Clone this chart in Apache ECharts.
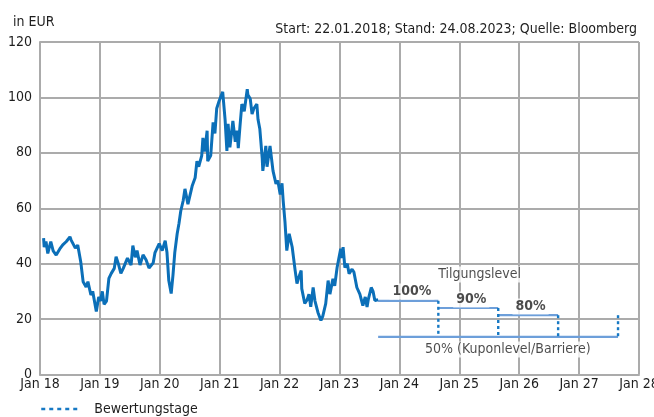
<!DOCTYPE html>
<html>
<head>
<meta charset="utf-8">
<script src="https://cdn.jsdelivr.net/npm/echarts@6/dist/echarts.min.js"></script>
<style>
  html, body { margin: 0; padding: 0; background: #fff; }
  #chart { width: 654px; height: 417px; }
</style>
</head>
<body>
<div id="chart"></div>
<script>
// ---- data (decimal years, EUR) ----
const years = [
  2018.06, 2018.07, 2018.10, 2018.13, 2018.18, 2018.22, 2018.27, 2018.33, 2018.38, 2018.44,
  2018.50, 2018.52, 2018.55, 2018.59, 2018.63, 2018.68, 2018.72, 2018.77, 2018.80, 2018.85,
  2018.88, 2018.94, 2018.98, 2019.01, 2019.04, 2019.07, 2019.11, 2019.15, 2019.19, 2019.24,
  2019.27, 2019.31, 2019.35, 2019.39, 2019.46,
  2019.49, 2019.52, 2019.55,
  2019.59, 2019.62, 2019.67, 2019.72, 2019.77, 2019.82, 2019.89, 2019.92, 2019.99, 2020.04,
  2020.09, 2020.12, 2020.15, 2020.19, 2020.22, 2020.25, 2020.29, 2020.32, 2020.35, 2020.39,
  2020.42, 2020.47, 2020.50, 2020.54, 2020.59, 2020.62, 2020.65, 2020.70, 2020.72, 2020.75,
  2020.79, 2020.80, 2020.85, 2020.89, 2020.92, 2020.95, 2020.99, 2021.05, 2021.09, 2021.12,
  2021.14, 2021.17, 2021.22, 2021.26, 2021.29, 2021.31, 2021.34, 2021.37, 2021.41, 2021.46,
  2021.47, 2021.51, 2021.54, 2021.57, 2021.62, 2021.64, 2021.67, 2021.71, 2021.72, 2021.77,
  2021.79, 2021.84, 2021.89, 2021.94, 2021.97, 2022.01, 2022.04, 2022.06, 2022.09, 2022.12,
  2022.16, 2022.21, 2022.26, 2022.29, 2022.32, 2022.36, 2022.37, 2022.42, 2022.46, 2022.49,
  2022.52, 2022.56, 2022.59, 2022.64, 2022.69, 2022.72, 2022.77, 2022.81, 2022.84, 2022.89,
  2022.92, 2022.96, 2022.99, 2023.02, 2023.04, 2023.06, 2023.09, 2023.13, 2023.16, 2023.21,
  2023.24, 2023.29, 2023.34, 2023.39, 2023.43, 2023.46, 2023.48, 2023.53, 2023.56, 2023.59,
  2023.645
];
const prices = [
  49.2, 46.0, 48.0, 43.7, 48.0, 44.6, 43.1, 45.3, 46.8, 48.0,
  49.7, 48.5, 49.0, 45.6, 46.7, 40.7, 33.5, 31.6, 33.5, 28.7,
  30.0, 22.7, 28.0, 26.5, 30.0, 25.3, 26.5, 34.7, 36.5, 38.3,
  42.5, 39.8, 36.5, 38.3, 42.0,
  41.7, 39.5, 46.5,
  42.3, 44.7, 39.5, 43.2, 41.4, 38.4, 40.3, 44.0, 47.2, 44.7,
  48.3, 44.0, 33.9, 29.2, 35.9, 44.0, 50.8, 54.5, 59.0, 62.7,
  67.0, 61.5, 61.6, 68.0, 71.0, 77.0, 75.0, 79.0, 85.4, 80.5,
  88.0, 77.0, 79.0, 91.0, 87.0, 96.0, 98.7, 102.0, 92.0, 80.7,
  90.5, 82.0, 91.5, 84.0, 88.0, 81.7, 90.0, 97.6, 95.0, 103.0,
  101.0, 99.5, 94.0, 96.0, 97.6, 92.0, 88.6, 78.0, 73.5, 82.5,
  75.0, 82.5, 73.5, 68.8, 70.0, 65.0, 69.0, 62.7, 55.0, 44.7,
  50.8, 46.0, 37.5, 32.8, 35.0, 37.5, 31.0, 25.6, 27.0, 29.0,
  24.4, 31.4, 26.6, 22.4, 19.5, 21.0, 25.6, 33.9, 29.0, 34.5,
  32.0, 38.6, 42.0, 45.4, 42.0, 46.0, 38.6, 40.0, 36.4, 38.0,
  37.0, 31.4, 29.0, 24.9, 28.0, 24.4, 27.0, 31.4, 30.0, 26.7,
  27.0
];
const xTicks = [2018, 2019, 2020, 2021, 2022, 2023, 2024, 2025, 2026, 2027, 2028];
const levelStart = 2023.645;               // Stand 24.08.2023
const obsDates = [2024.65, 2025.65, 2026.65, 2027.65]; // Bewertungstage
const levelValues = [26.6, 24.0, 21.4];    // Tilgungslevel 100/90/80 %
const levelNames = ['100%', '90%', '80%'];
const barrierValue = 13.6;                 // 50 %
const barrierName = '50% (Kuponlevel/Barriere)';
const yTicks = [0, 20, 40, 60, 80, 100, 120];

// annotation anchors (data coords)
const notes = [
  [2024.21, 30.0, levelNames[0], 'bold'],
  [2025.20, 27.1, levelNames[1], 'bold'],
  [2026.19, 24.5, levelNames[2], 'bold'],
  [2025.34, 36.1, 'Tilgungslevel', 'normal'],
  [2025.81, 9.0, barrierName, 'normal']
];

const FONT = '"Liberation Sans Narrow", "DejaVu Sans Condensed", "Roboto Condensed", Arial, sans-serif';
const FS = 14;
const GRID = '#ababab';
const MAIN = '#0b6fb8';
const LEVEL = '#6d9fda';
const DOT = '#1779c4';
const TXT = '#1e1e1e';

const series = [];
series.push({
  name: 'Kurs', type: 'line', symbol: 'none', z: 5,
  data: years.map((t, i) => [t, prices[i]]),
  lineStyle: { color: MAIN, width: 3 }
});
levelValues.forEach((v, i) => {
  const s = i === 0 ? levelStart : obsDates[i - 1];
  series.push({
    name: 'L' + i, type: 'line', symbol: 'none', z: 3,
    data: [[s, v], [obsDates[i], v]],
    lineStyle: { color: LEVEL, width: 2.2 }
  });
});
series.push({
  name: 'Barriere', type: 'line', symbol: 'none', z: 3,
  data: [[levelStart, barrierValue], [obsDates[obsDates.length - 1], barrierValue]],
  lineStyle: { color: LEVEL, width: 2.2 }
});
obsDates.forEach((d, i) => {
  const top = levelValues[Math.min(i, levelValues.length - 1)];
  series.push({
    name: 'Bewertungstage', type: 'line', symbol: 'none', z: 4,
    data: [[d, top], [d, barrierValue]],
    lineStyle: { color: DOT, width: 2.4, type: [3, 3] },
    itemStyle: { color: DOT }
  });
});
series.push({
  name: 'notes', type: 'scatter', symbolSize: 1, z: 6, silent: true,
  itemStyle: { color: 'transparent' },
  data: notes.map(n => ({
    value: [n[0], n[1]],
    label: {
      show: true, position: 'inside', formatter: n[2],
      fontFamily: FONT, fontSize: FS, fontWeight: n[3], color: TXT,
      textBorderWidth: 0, textBorderColor: 'transparent',
      backgroundColor: '#fff', padding: [1, 3]
    }
  }))
});

const chart = echarts.init(document.getElementById('chart'), null, { renderer: 'canvas' });
chart.setOption({
  animation: false,
  backgroundColor: '#fff',
  textStyle: { fontFamily: FONT },
  title: [
    { text: 'in EUR', left: 8, top: 10, textStyle: { fontFamily: FONT, fontSize: FS, fontWeight: 'normal', color: TXT } },
    { text: 'Start: 22.01.2018; Stand: 24.08.2023; Quelle: Bloomberg', right: 12, top: 17,
      textStyle: { fontFamily: FONT, fontSize: FS, fontWeight: 'normal', color: TXT } }
  ],
  grid: { left: 40, right: 15, top: 42, bottom: 42.5, containLabel: false, outerBoundsMode: 'none' },
  xAxis: {
    type: 'value', min: xTicks[0], max: xTicks[xTicks.length - 1], interval: 1,
    axisLine: { show: true, lineStyle: { color: GRID, width: 2 } },
    axisTick: { show: false },
    splitLine: { show: true, lineStyle: { color: GRID, width: 2 } },
    axisLabel: {
      fontFamily: FONT, fontSize: FS, color: TXT, margin: 3, hideOverlap: false,
      showMinLabel: true, showMaxLabel: true,
      formatter: v => 'Jan ' + String(Math.round(v)).slice(2)
    }
  },
  yAxis: {
    type: 'value', min: yTicks[0], max: yTicks[yTicks.length - 1], interval: 20,
    axisLine: { show: true, lineStyle: { color: GRID, width: 2 } },
    axisTick: { show: false },
    splitLine: { show: true, lineStyle: { color: GRID, width: 2 } },
    axisLabel: { fontFamily: FONT, fontSize: FS, color: TXT, margin: 8 }
  },
  legend: {
    show: true, padding: 0,
    data: ['Bewertungstage'], left: 40, top: 402, itemWidth: 40, itemHeight: 10,
    itemStyle: { color: 'transparent', borderWidth: 0, opacity: 0 },
    lineStyle: { color: DOT, width: 2.5, type: [4, 4] },
    formatter: '  {name}',
    textStyle: { fontFamily: FONT, fontSize: FS, color: TXT },
    selectedMode: false
  },
  series: series
});
</script>
</body>
</html>
